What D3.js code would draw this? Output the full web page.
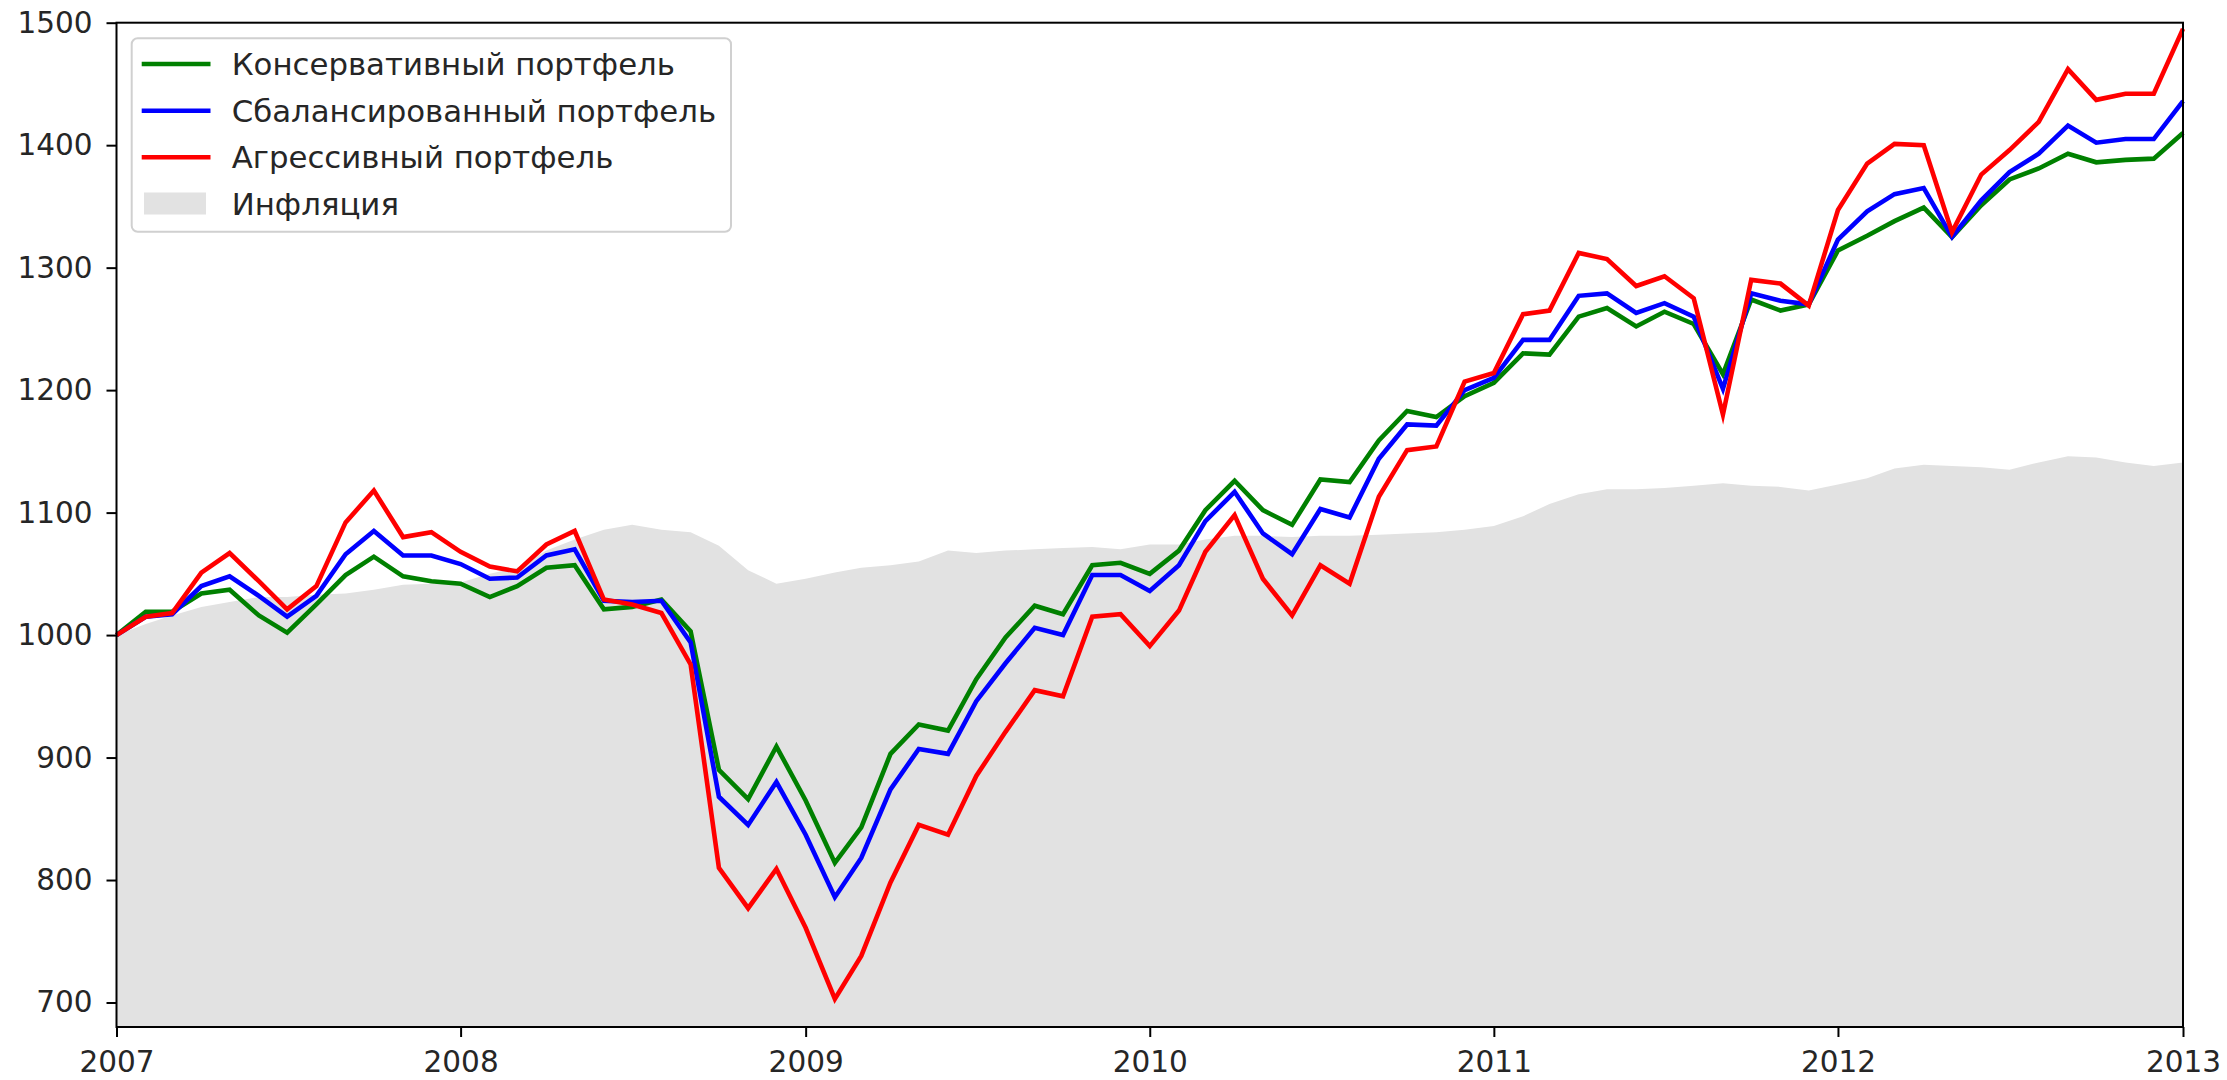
<!DOCTYPE html>
<html>
<head>
<meta charset="utf-8">
<script src="https://cdn.jsdelivr.net/npm/d3@7"></script>
<style>
  html, body { margin: 0; padding: 0; background: #ffffff; }
  svg { display: block; font-family: "DejaVu Sans", sans-serif; }
</style>
</head>
<body>
<svg id="chart" width="2227" height="1080"></svg>
<script>
// ---- data (monthly, Jan 2007 .. Jan 2013) ----
const startYear = 2007;
const yearTicks = [2007, 2008, 2009, 2010, 2011, 2012, 2013];
const valueTicks = [700, 800, 900, 1000, 1100, 1200, 1300, 1400, 1500];

const conservative = [
  1000, 1019, 1019, 1034, 1037, 1016, 1002, 1025, 1049, 1064, 1048, 1044,
  1042, 1031, 1040, 1055, 1057, 1021, 1023, 1029, 1003, 890, 866, 909,
  865, 814, 843, 903, 927, 922, 964, 998, 1024, 1017, 1057, 1059,
  1050, 1069, 1102, 1126, 1102, 1090, 1127, 1125, 1159, 1183, 1178, 1195,
  1206, 1230, 1229, 1260, 1267, 1252, 1264, 1254, 1213, 1274, 1265, 1270,
  1314, 1326, 1338, 1349, 1325, 1351, 1372, 1381, 1393, 1386, 1388, 1389,
  1410
];
const balanced = [
  1000, 1015, 1017, 1040, 1048, 1032, 1015, 1032, 1066, 1085, 1065, 1065,
  1058, 1046, 1047, 1065, 1070, 1028, 1027, 1028, 994, 868, 845, 880,
  837, 786, 818, 874, 907, 903, 946, 977, 1006, 1000, 1049, 1049,
  1036, 1057, 1093, 1117, 1083, 1066, 1103, 1096, 1144, 1172, 1171, 1200,
  1210, 1241, 1241, 1277, 1279, 1263, 1271, 1260, 1201, 1279, 1273, 1270,
  1323, 1346, 1360, 1365, 1325, 1355, 1378, 1393, 1416, 1402, 1405, 1405,
  1436
];
const aggressive = [
  1000, 1015, 1018, 1051, 1067, 1044, 1021, 1040, 1092, 1118, 1080, 1084,
  1068, 1056, 1052, 1074, 1085, 1029, 1025, 1018, 976, 810, 777, 809,
  761, 703, 738, 798, 845, 837, 885, 921, 955, 950, 1015, 1017,
  991, 1020, 1068, 1098, 1046, 1016, 1057, 1042, 1113, 1151, 1154, 1207,
  1214, 1262, 1265, 1312, 1307, 1285, 1293, 1275, 1180, 1290, 1287, 1269,
  1347, 1385, 1401, 1400, 1329, 1376, 1396, 1419, 1462, 1437, 1442, 1442,
  1495
];
const inflation = [
  1000, 1009, 1016, 1023, 1027, 1031, 1031, 1033, 1034, 1037, 1041, 1042,
  1043, 1050, 1055, 1069, 1078, 1086, 1090, 1086, 1084, 1073, 1053, 1042,
  1046, 1051, 1055, 1057, 1060, 1069, 1067, 1069, 1070, 1071, 1072, 1070,
  1074, 1074, 1078, 1081, 1081, 1080, 1081, 1081, 1082, 1083, 1084, 1086,
  1089, 1097, 1107, 1115, 1119, 1119, 1120, 1122, 1124, 1122, 1121, 1118,
  1123, 1128, 1136, 1139, 1138, 1137, 1135, 1141, 1146, 1145, 1141, 1138,
  1141
];
const seriesNames = ["Консервативный портфель", "Сбалансированный портфель", "Агрессивный портфель"];
const inflationName = "Инфляция";

// ---- layout ----
const M = { left: 116.5, right: 2183, top: 22.7, bottom: 1027 };
const FONT = 29.5;
const LEGEND_FONT = 30.8;
const LW = 4.6;

const svg = d3.select("#chart");

const dates = conservative.map((_, i) => new Date(startYear, i, 1));
const x = d3.scaleTime()
  .domain([new Date(yearTicks[0], 0, 1), new Date(yearTicks[yearTicks.length - 1], 0, 1)])
  .range([M.left, M.right]);
const y = d3.scaleLinear().domain([680, 1500]).range([M.bottom, M.top]);

// inflation area
const area = d3.area()
  .x((d, i) => x(dates[i]))
  .y0(y(680))
  .y1(d => y(d));
svg.append("path")
  .datum(inflation)
  .attr("d", area)
  .attr("fill", "#e2e2e2")
  .attr("stroke", "none");

// lines
const series = [
  { name: seriesNames[0], values: conservative, color: "#008000" },
  { name: seriesNames[1], values: balanced, color: "#0000ff" },
  { name: seriesNames[2], values: aggressive, color: "#ff0000" }
];
const line = d3.line().x((d, i) => x(dates[i])).y(d => y(d));
svg.append("g").selectAll("path")
  .data(series)
  .join("path")
  .attr("d", d => line(d.values))
  .attr("fill", "none")
  .attr("stroke", d => d.color)
  .attr("stroke-width", LW)
  .attr("stroke-linejoin", "miter")
  .attr("stroke-miterlimit", 10);

// frame
svg.append("rect")
  .attr("x", M.left).attr("y", M.top)
  .attr("width", M.right - M.left).attr("height", M.bottom - M.top)
  .attr("fill", "none").attr("stroke", "#000").attr("stroke-width", 2);

// axes
const xAxis = d3.axisBottom(x)
  .tickValues(yearTicks.map(yr => new Date(yr, 0, 1)))
  .tickFormat(d3.timeFormat("%Y"))
  .tickSize(10).tickPadding(14);
const yAxis = d3.axisLeft(y)
  .tickValues(valueTicks)
  .tickFormat(d3.format("d"))
  .tickSize(10).tickPadding(14);

const gx = svg.append("g").attr("transform", `translate(0,${M.bottom})`).call(xAxis);
const gy = svg.append("g").attr("transform", `translate(${M.left},0)`).call(yAxis);
[gx, gy].forEach(g => {
  g.select(".domain").remove();
  g.selectAll(".tick line").attr("stroke", "#000").attr("stroke-width", 2);
  g.selectAll(".tick text")
    .attr("fill", "#262626")
    .style("font-family", "'DejaVu Sans', sans-serif")
    .style("font-size", FONT + "px");
});

// legend
const lg = svg.append("g");
lg.append("rect")
  .attr("x", 131.7).attr("y", 38.3)
  .attr("width", 731 - 131.7).attr("height", 231.7 - 38.3)
  .attr("rx", 6).attr("ry", 6)
  .attr("fill", "#ffffff").attr("fill-opacity", 0.85)
  .attr("stroke", "#d0d0d0").attr("stroke-width", 2);
const rowY = [64, 110.7, 157.3, 203.5];
series.forEach((s, i) => {
  lg.append("line")
    .attr("x1", 141.7).attr("x2", 210.5)
    .attr("y1", rowY[i]).attr("y2", rowY[i])
    .attr("stroke", s.color).attr("stroke-width", LW);
  lg.append("text")
    .attr("x", 231.7).attr("y", rowY[i])
    .attr("dy", "0.36em")
    .attr("fill", "#262626")
    .style("font-size", LEGEND_FONT + "px")
    .text(s.name);
});
lg.append("rect")
  .attr("x", 144).attr("y", rowY[3] - 11)
  .attr("width", 62).attr("height", 22)
  .attr("fill", "#e2e2e2");
lg.append("text")
  .attr("x", 231.7).attr("y", rowY[3])
  .attr("dy", "0.36em")
  .attr("fill", "#262626")
  .style("font-size", LEGEND_FONT + "px")
  .text(inflationName);
</script>
</body>
</html>
